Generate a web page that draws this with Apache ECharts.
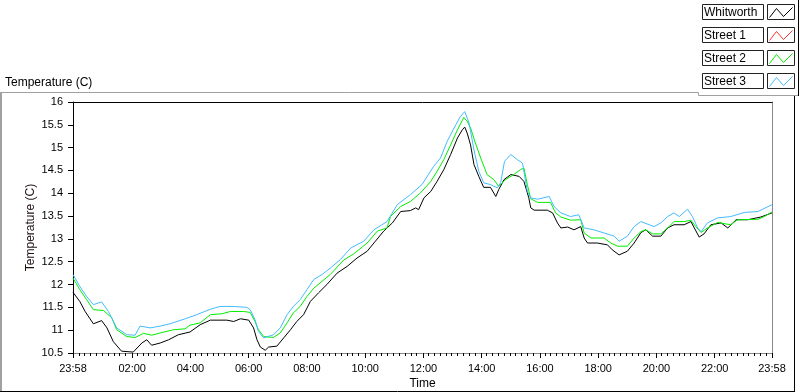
<!DOCTYPE html>
<html><head><meta charset="utf-8">
<script src="https://cdn.jsdelivr.net/npm/echarts@6/dist/echarts.min.js"></script>
<style>html,body{margin:0;padding:0;background:#fff}#c{width:800px;height:392px}</style>
</head><body><div id="c"></div>
<script>
// ---- data (time = minutes elapsed since 23:58) ----
const seriesNames = ['Whitworth', 'Street 1', 'Street 2', 'Street 3'];
const tickLabels = ['23:58','02:00','04:00','06:00','08:00','10:00','12:00','14:00','16:00','18:00','20:00','22:00','23:58'];
const startClock = '23:58';
const yAxisTitle = 'Temperature (C)';
const xAxisTitle = 'Time';

const whitworthTime = [0,14,25,42,59,70,83,100,124,142,152,162,180,197,217,241,262,283,317,331,345,362,372,379,386,396,403,420,434,448,461,475,489,506,523,544,565,585,606,623,640,658,675,695,706,712,723,737,750,764,778,792,802,807,812,819,826,836,846,860,871,877,888,902,919,929,939,943,950,977,988,998,1005,1019,1032,1046,1053,1060,1080,1101,1111,1125,1142,1156,1170,1180,1194,1211,1225,1238,1259,1273,1280,1290,1300,1314,1335,1349,1366,1390,1417,1440];
const whitworthTemp = [11.83,11.63,11.41,11.14,11.21,11.05,10.75,10.54,10.52,10.72,10.79,10.67,10.72,10.79,10.90,10.96,11.12,11.22,11.22,11.19,11.25,11.22,11.05,10.79,10.63,10.56,10.63,10.65,10.83,11.01,11.19,11.34,11.63,11.82,12.00,12.25,12.40,12.58,12.73,12.95,13.17,13.35,13.60,13.62,13.68,13.64,13.90,14.04,14.26,14.52,14.85,15.21,15.39,15.45,15.32,15.06,14.63,14.37,14.13,14.13,13.93,14.08,14.30,14.41,14.37,14.26,13.90,13.68,13.63,13.63,13.57,13.35,13.24,13.26,13.20,13.27,13.02,12.91,12.91,12.87,12.76,12.65,12.73,12.91,13.14,13.20,13.06,13.06,13.24,13.31,13.31,13.38,13.24,13.04,13.11,13.31,13.35,13.24,13.42,13.42,13.48,13.57];

const street1Time = [];
const street1Temp = [];

const street2Time = [0,14,28,42,63,80,90,111,128,145,162,180,207,231,241,262,283,307,324,351,365,375,382,393,413,427,441,454,468,482,496,513,530,558,578,606,627,647,654,675,695,716,737,750,764,778,792,805,812,819,829,840,853,867,877,891,908,922,929,936,943,957,984,994,1005,1025,1046,1053,1067,1094,1108,1122,1142,1156,1170,1180,1194,1211,1225,1238,1259,1273,1283,1294,1307,1328,1355,1369,1411,1424,1440];
const street2Temp = [12.14,11.89,11.67,11.45,11.43,11.27,11.01,10.86,10.84,10.93,10.89,10.94,11.01,11.03,11.11,11.16,11.34,11.36,11.41,11.41,11.39,11.19,11.01,10.86,10.84,10.94,11.16,11.38,11.52,11.74,11.92,12.07,12.22,12.54,12.67,12.91,13.17,13.24,13.49,13.71,13.82,14.01,14.26,14.48,14.74,15.06,15.39,15.66,15.58,15.43,15.10,14.77,14.41,14.30,14.15,14.30,14.41,14.52,14.55,14.19,13.88,13.80,13.80,13.57,13.48,13.41,13.42,13.13,13.02,13.02,12.91,12.84,12.84,13.02,13.16,13.20,13.11,13.11,13.24,13.38,13.38,13.41,13.27,13.14,13.24,13.36,13.31,13.42,13.43,13.49,13.59];

const street3Time = [0,14,28,42,59,73,90,111,128,138,159,180,200,231,255,283,303,331,358,365,375,382,393,413,427,441,454,468,482,496,513,530,551,572,599,620,647,668,695,719,743,757,771,785,798,807,816,826,836,846,860,874,881,889,902,915,926,936,943,957,981,991,1005,1025,1042,1053,1073,1094,1115,1125,1142,1156,1170,1187,1197,1211,1225,1238,1249,1266,1276,1287,1294,1307,1328,1355,1383,1411,1440];
const street3Temp = [12.22,11.96,11.74,11.56,11.62,11.41,11.05,10.90,10.89,11.09,11.05,11.09,11.14,11.25,11.34,11.46,11.52,11.52,11.50,11.45,11.23,10.97,10.83,10.90,11.05,11.34,11.52,11.67,11.89,12.11,12.22,12.36,12.55,12.80,12.95,13.20,13.38,13.75,13.97,14.19,14.59,14.77,15.14,15.43,15.68,15.79,15.54,14.95,14.48,14.23,14.19,14.12,14.23,14.70,14.85,14.74,14.66,14.04,13.90,13.87,13.93,13.71,13.57,13.49,13.53,13.24,13.20,13.13,13.06,12.95,13.06,13.27,13.38,13.31,13.27,13.35,13.49,13.57,13.49,13.65,13.49,13.24,13.16,13.35,13.46,13.49,13.58,13.60,13.75];

// ---- helpers ----
const toMin = s => { const p = s.split(':'); return (+p[0]) * 60 + (+p[1]); };
const start = toMin(startClock);
const DAY = 1440;
const majorVals = tickLabels.map((l, i) => i === tickLabels.length - 1 ? DAY : (toMin(l) - start + DAY) % DAY);
const minorVals = [];
for (let v = 0; v <= DAY; v += 12) {
  if (majorVals.every(m => Math.abs(m - v) > 3)) minorVals.push(v);
}
const pad = n => (n < 10 ? '0' : '') + n;
const fmtClock = v => { const c = (start + Math.round(v)) % DAY; return pad(Math.floor(c / 60)) + ':' + pad(c % 60); };
const zip = (a, b) => a.map((x, i) => [x, b[i]]);

const seriesData = [zip(whitworthTime, whitworthTemp), zip(street1Time, street1Temp), zip(street2Time, street2Temp), zip(street3Time, street3Temp)];
const colors = ['#000000', '#ff3333', '#00ee00', '#44bbff'];
const FONT = 'Liberation Sans';

const chart = echarts.init(document.getElementById('c'), null, { renderer: 'canvas' });

const graphics = [];
const line = (x1, y1, x2, y2, c, w) => graphics.push({ type: 'line', silent: true, shape: { x1, y1, x2, y2 }, style: { stroke: c, lineWidth: w || 1 } });
// panel frame
line(0, 92.5, 698.5, 92.5, '#a0a0a0');
line(698.5, 92.5, 698.5, 95.5, '#a0a0a0');
line(698.5, 95.5, 798, 95.5, '#a0a0a0');
line(1, 92, 1, 391, '#a0a0a0', 2);
line(0, 391.5, 795, 391.5, '#000');
line(794.5, 96, 794.5, 392, '#000');
line(798.5, 0, 798.5, 96, '#000');
// caption
graphics.push({ type: 'text', silent: true, x: 5, y: 83, style: { text: yAxisTitle, fill: '#000', font: '12px "' + FONT + '"', verticalAlign: 'middle', align: 'left' } });
// legend
seriesNames.forEach((name, i) => {
  const top = 4 + 23 * i;
  graphics.push({ type: 'rect', silent: true, shape: { x: 702.5, y: top + 0.5, width: 61, height: 15 }, style: { fill: '#fff', stroke: '#222', lineWidth: 1 } });
  graphics.push({ type: 'text', silent: true, x: 704, y: top + 8.5, style: { text: name, fill: '#000', font: '12px "' + FONT + '"', verticalAlign: 'middle', align: 'left' } });
  graphics.push({ type: 'rect', silent: true, shape: { x: 767.5, y: top + 0.5, width: 27, height: 15 }, style: { fill: '#fff', stroke: '#222', lineWidth: 1 } });
  graphics.push({ type: 'polyline', silent: true, shape: { points: [[769.5, top + 13.5], [776.5, top + 4.5], [783.5, top + 12.5], [792.5, top + 3.5]] }, style: { stroke: colors[i], lineWidth: 1, fill: null } });
});

const option = {
  animation: false,
  backgroundColor: '#fff',
  textStyle: { fontFamily: FONT },
  grid: { left: 73, right: 28, top: 102, bottom: 39, containLabel: false, outerBoundsMode: 'none' },
  xAxis: [{
    type: 'value', min: 0, max: DAY, position: 'bottom',
    axisLine: { show: true, onZero: false, lineStyle: { color: '#888', width: 1 } },
    axisTick: { show: true, length: 5, customValues: majorVals, lineStyle: { color: '#000' } },
    axisLabel: { customValues: majorVals, formatter: v => fmtClock(v), color: '#000', fontSize: 11, fontFamily: FONT, margin: 10 },
    splitLine: { show: false },
    name: xAxisTitle, nameLocation: 'middle', nameGap: 25, nameMoveOverlap: false,
    nameTextStyle: { color: '#000', fontSize: 12, fontFamily: FONT }
  }, {
    type: 'value', min: 0, max: DAY, position: 'bottom',
    axisLine: { show: false, onZero: false },
    axisTick: { show: true, length: 3, customValues: minorVals, lineStyle: { color: '#000', width: 1 } },
    axisLabel: { show: false },
    splitLine: { show: false }
  }, {
    type: 'value', min: 0, max: DAY, position: 'top',
    axisLine: { show: true, onZero: false, lineStyle: { color: '#000' } },
    axisTick: { show: false }, axisLabel: { show: false }, splitLine: { show: false }
  }],
  yAxis: [{
    type: 'value', min: 10.5, max: 16, interval: 0.5, position: 'left',
    axisLine: { show: true, onZero: false, lineStyle: { color: '#000' } },
    axisTick: { show: true, length: 5, lineStyle: { color: '#000' } },
    axisLabel: { color: '#000', fontSize: 11, fontFamily: FONT, margin: 10 },
    splitLine: { show: false },
    name: yAxisTitle, nameLocation: 'middle', nameGap: 36, nameRotate: 90, nameMoveOverlap: false,
    nameTextStyle: { color: '#201010', fontSize: 12, fontFamily: FONT }
  }, {
    type: 'value', min: 10.5, max: 16, interval: 0.5, position: 'right',
    axisLine: { show: true, onZero: false, lineStyle: { color: '#888' } },
    axisTick: { show: false }, axisLabel: { show: false }, splitLine: { show: false }
  }],
  series: seriesNames.map((name, i) => ({
    name, type: 'line', xAxisIndex: 0, yAxisIndex: 0,
    data: seriesData[i], showSymbol: false, symbol: 'none',
    lineStyle: { color: colors[i], width: 1 }, itemStyle: { color: colors[i] },
    emphasis: { disabled: true }
  })),
  graphic: graphics
};
chart.setOption(option);
</script>
</body></html>
